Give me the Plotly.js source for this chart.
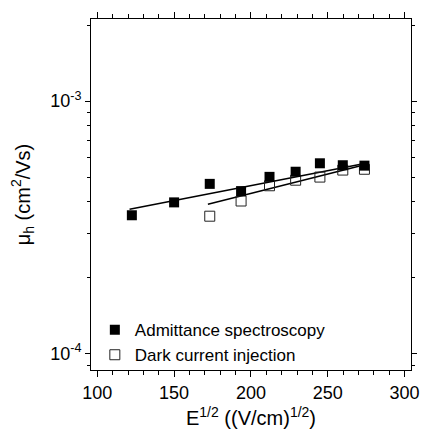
<!DOCTYPE html>
<html>
<head>
<meta charset="utf-8">
<script src="https://cdn.plot.ly/plotly-3.0.1.min.js"></script>
<style>html,body{margin:0;padding:0;background:#fff;}#chart{width:424px;height:434px;}</style>
</head>
<body>
<div id="chart"></div>
<script>
// Admittance spectroscopy (filled squares)
const admX = [122.5, 150.0, 173.2, 193.6, 212.1, 229.1, 244.9, 259.8, 273.9];
const admY = [3.53e-4, 3.97e-4, 4.70e-4, 4.40e-4, 5.01e-4, 5.25e-4, 5.67e-4, 5.57e-4, 5.55e-4];
// Dark current injection (open squares)
const dciX = [173.2, 193.6, 212.1, 229.1, 244.9, 259.8, 273.9];
const dciY = [3.50e-4, 4.02e-4, 4.62e-4, 4.86e-4, 5.00e-4, 5.33e-4, 5.37e-4];
// Fit lines (endpoints)
const admFitX = [121, 274];
const admFitY = [3.73e-4, 5.66e-4];
const dciFitX = [172, 274];
const dciFitY = [3.90e-4, 5.60e-4];
// Tick labels
const xTicks = [100, 150, 200, 250, 300];
const yTicks = [1e-4, 1e-3];
const yTickText = ['10<sup>-4</sup>', '10<sup>-3</sup>'];
const yMinor = [9e-5, 2e-4, 3e-4, 4e-4, 5e-4, 6e-4, 7e-4, 8e-4, 9e-4, 2e-3];

const font = 'Liberation Sans, Arial, Helvetica, sans-serif';

const traces = [
  {x: admFitX, y: admFitY, mode: 'lines', line: {color: '#000', width: 1.5}, showlegend: false, hoverinfo: 'skip'},
  {x: dciFitX, y: dciFitY, mode: 'lines', line: {color: '#000', width: 1.5}, showlegend: false, hoverinfo: 'skip'},
  {x: dciX, y: dciY, mode: 'markers', name: 'Dark current injection', legendrank: 2,
   marker: {symbol: 'square-open', size: 10, color: '#222', line: {width: 1, color: '#222'}}},
  {x: admX, y: admY, mode: 'markers', name: 'Admittance spectroscopy', legendrank: 1,
   marker: {symbol: 'square', size: 10, color: '#000'}}
];

const layout = {
  width: 424, height: 434,
  margin: {l: 91, r: 13, t: 19, b: 64},
  paper_bgcolor: '#fff', plot_bgcolor: '#fff',
  font: {family: font, size: 18, color: '#000'},
  showlegend: true,
  legend: {x: 0.012, y: 0.165, xanchor: 'left', yanchor: 'top', bgcolor: 'rgba(0,0,0,0)',
           font: {family: font, size: 17, color: '#000'}, tracegroupgap: 0},
  xaxis: {
    range: [95.9, 304.2], tickmode: 'array', tickvals: xTicks,
    ticks: 'outside', ticklen: 6, tickwidth: 1, tickcolor: '#000',
    showline: true, linecolor: '#000', linewidth: 1, mirror: 'ticks',
    showgrid: false, zeroline: false,
    minor: {dtick: 10, tick0: 100, ticks: 'outside', ticklen: 4, tickwidth: 1, tickcolor: '#000', showgrid: false},
    tickfont: {family: font, size: 18, color: '#000'},
    title: {text: 'E<sup>1/2</sup> ((V/cm)<sup>1/2</sup>)', font: {family: font, size: 20, color: '#000'}, standoff: 9}
  },
  yaxis: {
    type: 'log', range: [-4.065, -2.675], tickmode: 'array', tickvals: yTicks, ticktext: yTickText,
    ticks: 'outside', ticklen: 5, tickwidth: 1, tickcolor: '#000',
    showline: true, linecolor: '#000', linewidth: 1, mirror: 'ticks',
    showgrid: false, zeroline: false,
    minor: {tickmode: 'array', tickvals: yMinor, ticks: 'outside', ticklen: 3, tickwidth: 1, tickcolor: '#000', showgrid: false},
    tickfont: {family: font, size: 18, color: '#000'},
    title: {text: 'μ<sub>h</sub> (cm<sup>2</sup>/Vs)', font: {family: font, size: 20, color: '#000'}, standoff: 14}
  }
};

Plotly.newPlot('chart', traces, layout, {displayModeBar: false, staticPlot: true});
</script>
</body>
</html>
